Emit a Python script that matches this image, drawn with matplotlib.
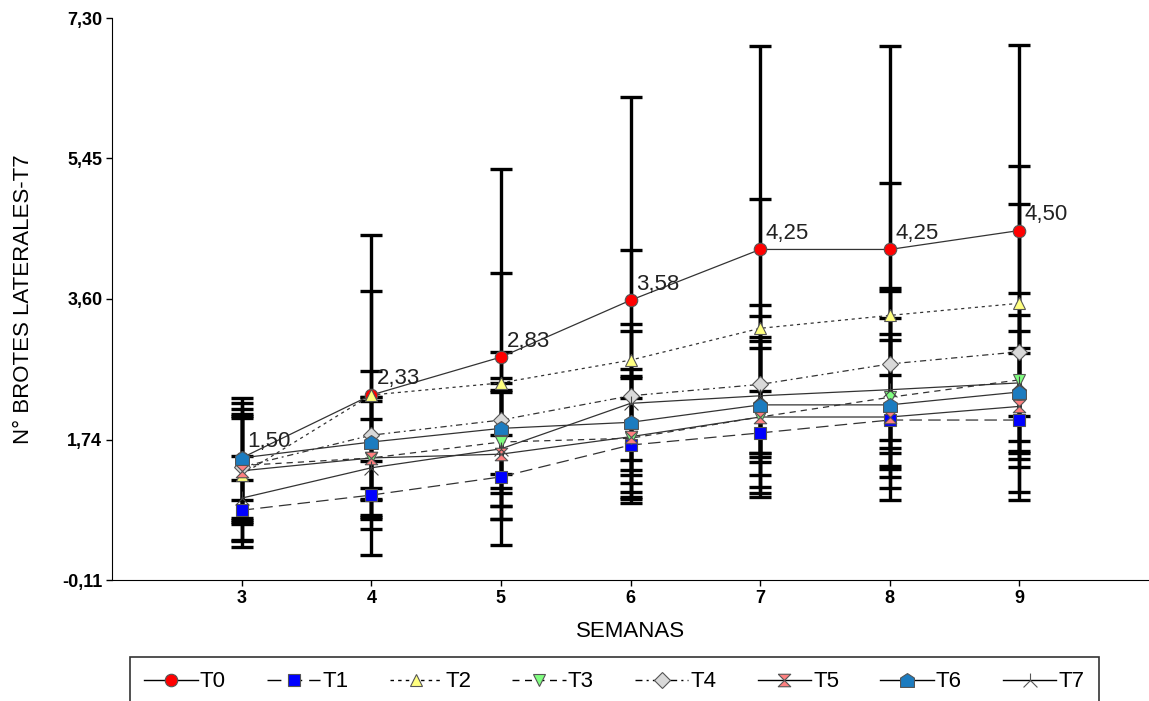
import matplotlib
matplotlib.use("Agg")
import matplotlib.pyplot as plt
from matplotlib.path import Path
from matplotlib.lines import Line2D

# --- data ---
weeks = [3, 4, 5, 6, 7, 8, 9]
names = ["T0", "T1", "T2", "T3", "T4", "T5", "T6", "T7"]

t0 = [1.50, 2.33, 2.83, 3.58, 4.25, 4.25, 4.50]
t1 = [0.81, 1.01, 1.25, 1.67, 1.83, 2.00, 2.00]
t2 = [1.28, 2.33, 2.49, 2.79, 3.21, 3.38, 3.54]
t3 = [1.40, 1.50, 1.71, 1.76, 2.04, 2.30, 2.53]
t4 = [1.38, 1.80, 2.00, 2.32, 2.47, 2.74, 2.90]
t5 = [1.33, 1.50, 1.55, 1.78, 2.04, 2.04, 2.18]
t6 = [1.50, 1.71, 1.89, 1.97, 2.20, 2.20, 2.37]
t7 = [0.97, 1.37, 1.62, 2.22, 2.32, 2.40, 2.49]

sd_t0 = [0.79, 2.11, 2.48, 2.68, 2.68, 2.68, 2.45]
sd_t1 = [0.40, 0.45, 0.55, 0.62, 0.55, 0.60, 0.95]
sd_t2 = [0.95, 1.37, 1.45, 1.45, 1.70, 1.75, 1.81]
sd_t3 = [0.75, 0.75, 0.85, 0.80, 1.00, 1.05, 1.15]
sd_t4 = [0.70, 0.85, 0.90, 0.85, 0.90, 1.00, 1.95]
sd_t5 = [0.70, 0.80, 0.85, 0.80, 1.05, 1.10, 0.70]
sd_t6 = [0.55, 0.60, 0.60, 0.70, 0.75, 0.85, 0.80]
sd_t7 = [0.55, 0.65, 0.75, 1.05, 1.20, 1.30, 0.90]

t0_labels = ["1,50", "2,33", "2,83", "3,58", "4,25", "4,25", "4,50"]
t0_label_pos = [1.50, 2.33, 2.83, 3.58, 4.25, 4.25, 4.50]

yticks = [-0.11, 1.74, 3.60, 5.45, 7.30]
ytick_labels = ["-0,11", "1,74", "3,60", "5,45", "7,30"]

means = [t0, t1, t2, t3, t4, t5, t6, t7]
sds = [sd_t0, sd_t1, sd_t2, sd_t3, sd_t4, sd_t5, sd_t6, sd_t7]

# --- markers ---
hourglass = Path([(-1, 1), (1, 1), (-1, -1), (1, -1), (-1, 1)])
house = Path([(0, 1), (1, 0.35), (1, -1), (-1, -1), (-1, 0.35), (0, 1)])
lam = Path([(0, 1), (0, 0), (-1, -1), (0, 0), (1, -1)],
           [Path.MOVETO, Path.LINETO, Path.LINETO, Path.MOVETO, Path.LINETO])

markers = ["o", "s", "^", "v", "D", hourglass, house, lam]
colors = ["#FF0000", "#0000FF", "#FFFF80", "#80FF80", "#D9D9D9",
          "#FF8080", "#1C7CC0", "none"]
styles = ["-", (0, (10, 5)), (0, (2.5, 3)), (0, (5, 4)), (0, (5, 3, 1.5, 3)),
          "-", "-", "-"]
msizes = [9, 9, 9, 9, 8, 9, 10, 10]

plt.rcParams['font.family'] = ['Liberation Sans', 'DejaVu Sans']

fig = plt.figure(figsize=(11.49, 7.01), dpi=100)
ax = fig.add_axes([0.0975, 0.1726, 0.9025, 0.8014])

# error bars first, then the lines, then markers on top
for m, s in zip(means, sds):
    ax.errorbar(weeks, m, yerr=s, fmt="none", ecolor="black", elinewidth=2.4,
                capsize=8, capthick=2.4, zorder=2)

for i in range(8):
    ax.plot(weeks, means[i], color="#333333", lw=0.9, ls=styles[i], zorder=3)
for i in range(8):
    ax.plot(weeks, means[i], ls="none", marker=markers[i], ms=msizes[i],
            mfc=colors[i], mec="#555555" if i != 7 else "#444444", mew=0.8,
            zorder=4 + i)

for w, lab, v in zip(weeks, t0_labels, t0_label_pos):
    ax.annotate(lab, (w, v), xytext=(4, 4), textcoords="offset points",
                fontsize=16, ha="left", va="bottom", color="#222222", zorder=20)

ax.set_xlim(2, 10)
ax.set_ylim(-0.11, 7.30)
ax.set_xticks(weeks)
ax.set_xticklabels([str(w) for w in weeks], fontsize=13, fontweight="bold")
ax.set_yticks(yticks)
ax.set_yticklabels(ytick_labels, fontsize=13, fontweight="bold")
ax.tick_params(axis="both", length=4, width=1, direction="out", pad=3)
ax.spines["top"].set_visible(False)
ax.spines["right"].set_visible(False)
ax.set_xlabel("SEMANAS", fontsize=16, labelpad=10)
ax.set_ylabel("N° BROTES LATERALES-T7", fontsize=16, labelpad=20)

handles = []
for i in range(8):
    handles.append(Line2D([], [], color="black", lw=1, ls=styles[i],
                          marker=markers[i], ms=msizes[i], mfc=colors[i],
                          mec="#555555", mew=0.8))
leg = fig.legend(handles, names, loc="upper left", bbox_to_anchor=(0.113, 0.063),
                 ncol=8, frameon=True, fancybox=False, edgecolor="black",
                 fontsize=16, handlelength=2.4, handletextpad=0.1,
                 columnspacing=1.85, borderpad=0.65, borderaxespad=0)
leg.get_frame().set_linewidth(1.2)

fig.savefig("out.png", dpi=100)
